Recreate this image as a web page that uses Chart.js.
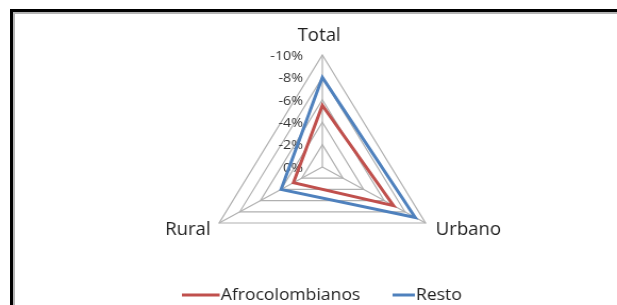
<!DOCTYPE html>
<html><head><meta charset="utf-8">
<script src="https://cdn.jsdelivr.net/npm/chart.js@4"></script>
<style>
html,body{margin:0;padding:0;background:#fff;overflow:hidden;width:617px;height:305px}
#frame{position:absolute;left:10px;top:9px;width:700px;height:400px;border-left:3px solid #000;border-top:3px solid #000;box-shadow:inset 2px 2px 0 #b4b4b4;}
#c{position:absolute;left:0;top:0;width:617px;height:305px}
</style></head><body>
<div id="frame"></div>
<canvas id="c" width="580" height="305" style="width:617px;height:305px"></canvas>
<script>
// ---- data ----
const categories = ['Total', 'Urbano', 'Rural'];
const seriesNames = ['Afrocolombianos', 'Resto'];
const afrocolombianos = [-5.5, -6.9, -2.8];
const resto = [-8.0, -9.0, -4.0];
const tickValues = [0, -2, -4, -6, -8, -10];
const tickLabels = ['0%', '-2%', '-4%', '-6%', '-8%', '-10%'];

const colors = ['#C0504D', '#4F81BD'];
const FONT = '"Open Sans", "DejaVu Sans", sans-serif';

const tickPlugin = {
  id: 'tickLabelsLeft',
  beforeDatasetsDraw(chart) {
    const s = chart.scales.r, ctx = chart.ctx;
    ctx.save();
    ctx.font = '13.5px ' + FONT;
    ctx.fillStyle = '#333333';
    ctx.textAlign = 'right';
    ctx.textBaseline = 'middle';
    tickValues.forEach((v, i) => {
      const d = s.getDistanceFromCenterForValue(v);
      ctx.fillText(tickLabels[i], s.xCenter - 18, s.yCenter - d + 1);
    });
    ctx.restore();
  }
};

const labelOffsets = [
  {dx: -3, dy: -14, align: 'center'},
  {dx: 9.5, dy: 12, align: 'left'},
  {dx: -8, dy: 12, align: 'right'}
];
const pointLabelPlugin = {
  id: 'pointLabelsCustom',
  afterDraw(chart) {
    const s = chart.scales.r, ctx = chart.ctx;
    ctx.save();
    ctx.font = '17.5px ' + FONT;
    ctx.fillStyle = '#1f1f1f';
    ctx.textBaseline = 'alphabetic';
    categories.forEach((c, i) => {
      const p = s.getPointPosition(i, s.drawingArea);
      const o = labelOffsets[i];
      ctx.textAlign = o.align;
      ctx.fillText(c, p.x + o.dx, p.y + o.dy);
    });
    ctx.restore();
  }
};

const legendLayout = [
  {x0: 171, x1: 206.5, tx: 207.5},
  {x0: 369, x1: 390, tx: 391}
];
const legendPlugin = {
  id: 'legendCustom',
  afterDraw(chart) {
    const ctx = chart.ctx, y = 295;
    ctx.save();
    ctx.font = '16.5px ' + FONT;
    ctx.textBaseline = 'middle';
    ctx.textAlign = 'left';
    chart.data.datasets.forEach((ds, i) => {
      const L = legendLayout[i];
      ctx.strokeStyle = ds.borderColor;
      ctx.lineWidth = 3;
      ctx.beginPath();
      ctx.moveTo(L.x0, y);
      ctx.lineTo(L.x1, y);
      ctx.stroke();
      ctx.fillStyle = '#1f1f1f';
      ctx.fillText(ds.label, L.tx, y);
    });
    ctx.restore();
  }
};

new Chart(document.getElementById('c'), {
  type: 'radar',
  data: {
    labels: categories,
    datasets: [
      {label: seriesNames[0], data: afrocolombianos, borderColor: colors[0], backgroundColor: 'transparent', borderWidth: 3, pointRadius: 0, fill: false, borderJoinStyle: 'miter', tension: 0},
      {label: seriesNames[1], data: resto, borderColor: colors[1], backgroundColor: 'transparent', borderWidth: 3, pointRadius: 0, fill: false, borderJoinStyle: 'miter', tension: 0}
    ]
  },
  options: {
    responsive: false,
    devicePixelRatio: 1,
    animation: false,
    layout: {padding: {left: 191, right: 165, top: 55, bottom: 26}},
    plugins: {legend: {display: false}, tooltip: {enabled: false}},
    scales: {
      r: {
        min: -10, max: 0, reverse: true,
        ticks: {display: false, stepSize: 2},
        pointLabels: {display: false},
        grid: {color: '#B0B0B0', lineWidth: 1.2},
        angleLines: {color: '#B0B0B0', lineWidth: 1.2}
      }
    }
  },
  plugins: [tickPlugin, pointLabelPlugin, legendPlugin]
});
</script>
</body></html>
